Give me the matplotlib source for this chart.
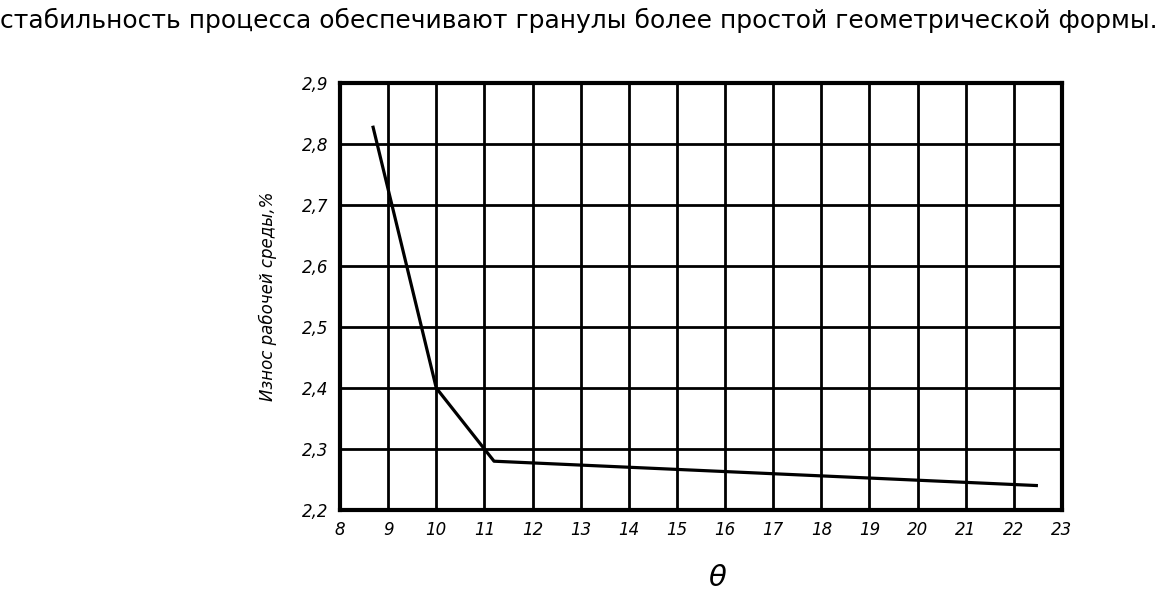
import matplotlib
matplotlib.use("Agg")
import matplotlib.pyplot as plt

# data
theta = [8.68, 10.0, 11.2, 22.5]
wear = [2.83, 2.40, 2.28, 2.24]
xticks = list(range(8, 24))
yticks = [2.2, 2.3, 2.4, 2.5, 2.6, 2.7, 2.8, 2.9]
ylabels = ["2,2", "2,3", "2,4", "2,5", "2,6", "2,7", "2,8", "2,9"]

header = "стабильность процесса обеспечивают гранулы более простой геометрической формы."

fig = plt.figure(figsize=(11.58, 5.95), dpi=100)
ax = fig.add_axes([340 / 1158, 1 - 510 / 595, 722 / 1158, 427 / 595])

ax.plot(theta, wear, color="black", lw=2.3, solid_capstyle="butt", zorder=3)

ax.set_xlim(8, 23)
ax.set_ylim(2.2, 2.9)
ax.set_xticks(xticks)
ax.set_xticklabels([str(t) for t in xticks], fontstyle="italic", fontsize=12)
ax.set_yticks(yticks)
ax.set_yticklabels(ylabels, fontstyle="italic", fontsize=12)
ax.tick_params(length=0, pad=8)
ax.grid(True, color="black", lw=2.0)
for s in ax.spines.values():
    s.set_linewidth(3.0)

ax.set_ylabel("Износ рабочей среды,%", fontstyle="italic", fontsize=12, labelpad=18)
fig.text(718 / 1158, 1 - 578 / 595, r"$\theta$", fontsize=21, ha="center", va="center")
fig.text(0.0, 1 - 20 / 595, header, fontsize=18, ha="left", va="center")

fig.savefig("out.png", dpi=100)
